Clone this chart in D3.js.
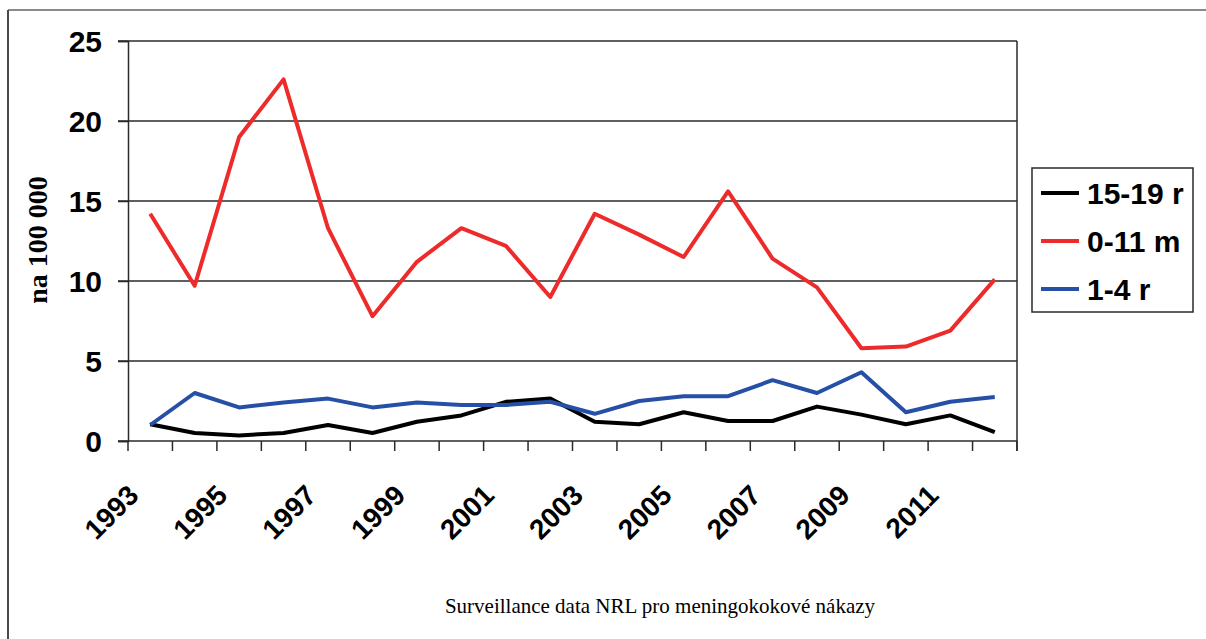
<!DOCTYPE html>
<html>
<head>
<meta charset="utf-8">
<script src="https://cdn.jsdelivr.net/npm/d3@7"></script>
<style>
  body { margin: 0; background: #fff; }
  svg { display: block; }
</style>
</head>
<body>
<script>
// Meningococcal incidence by age group, per 100 000

const years = [1993, 1994, 1995, 1996, 1997, 1998, 1999, 2000, 2001, 2002,
               2003, 2004, 2005, 2006, 2007, 2008, 2009, 2010, 2011, 2012];

const teens = [1.05, 0.5, 0.35, 0.5, 1.0, 0.5, 1.2, 1.6, 2.45, 2.65,
               1.2, 1.05, 1.8, 1.25, 1.25, 2.15, 1.65, 1.05, 1.6, 0.55];

const infants = [14.2, 9.7, 19.0, 22.6, 13.3, 7.8, 11.2, 13.3, 12.2, 9.0,
                 14.2, 12.9, 11.5, 15.6, 11.4, 9.6, 5.8, 5.9, 6.9, 10.1];

const toddlers = [1.0, 3.0, 2.1, 2.4, 2.65, 2.1, 2.4, 2.25, 2.25, 2.45,
                  1.7, 2.5, 2.8, 2.8, 3.8, 3.0, 4.3, 1.8, 2.45, 2.75];

const seriesNames = ["15-19 r", "0-11 m", "1-4 r"];
const yTicks = [0, 5, 10, 15, 20, 25];

const series = [
  { name: seriesNames[0], values: teens, color: "#000000" },
  { name: seriesNames[1], values: infants, color: "#ee2b2b" },
  { name: seriesNames[2], values: toddlers, color: "#2650a6" }
];

const width = 1206;
const height = 639;
const plot = { left: 128, right: 1017, top: 41, bottom: 441 };

const svg = d3.select("body").append("svg")
  .attr("width", width)
  .attr("height", height);

// outer frame (only top and left edges are visible)
svg.append("line")
  .attr("x1", 8).attr("x2", width).attr("y1", 10).attr("y2", 10)
  .attr("stroke", "#8a8a8a").attr("stroke-width", 2);
svg.append("line")
  .attr("x1", 8).attr("x2", 8).attr("y1", 10).attr("y2", height)
  .attr("stroke", "#4a4a4a").attr("stroke-width", 2);

const x = d3.scaleBand()
  .domain(years)
  .range([plot.left, plot.right]);

const y = d3.scaleLinear()
  .domain([0, 25])
  .range([plot.bottom, plot.top]);

// gridlines
svg.append("g")
  .selectAll("line")
  .data(yTicks.filter((d) => d > 0))
  .join("line")
  .attr("x1", plot.left - 10)
  .attr("x2", plot.right)
  .attr("y1", (d) => y(d))
  .attr("y2", (d) => y(d))
  .attr("stroke", "#2a2a2a")
  .attr("stroke-width", 1.5);

// right border of plot
svg.append("line")
  .attr("x1", plot.right).attr("x2", plot.right)
  .attr("y1", plot.top).attr("y2", plot.bottom + 10)
  .attr("stroke", "#2a2a2a").attr("stroke-width", 1.5);

// y axis
const yAxis = svg.append("g")
  .attr("transform", `translate(${plot.left},0)`)
  .call(d3.axisLeft(y).tickValues(yTicks).tickSize(10).tickPadding(16));
yAxis.select(".domain").attr("stroke", "#2a2a2a").attr("stroke-width", 1.5);
yAxis.selectAll(".tick line").attr("stroke", "#2a2a2a").attr("stroke-width", 1.5);
yAxis.selectAll(".tick text")
  .attr("dy", "0.36em")
  .style("font-family", "'Liberation Sans', Arial, sans-serif")
  .style("font-weight", "bold")
  .style("font-size", "30px")
  .attr("fill", "#000");

// x axis: ticks at band boundaries
const xAxisG = svg.append("g");
xAxisG.append("line")
  .attr("x1", plot.left - 10).attr("x2", plot.right)
  .attr("y1", plot.bottom).attr("y2", plot.bottom)
  .attr("stroke", "#2a2a2a").attr("stroke-width", 1.5);
xAxisG.selectAll("line.tick")
  .data(years.concat(["end"]))
  .join("line")
  .attr("class", "tick")
  .attr("x1", (d) => (d === "end" ? plot.right : x(d)))
  .attr("x2", (d) => (d === "end" ? plot.right : x(d)))
  .attr("y1", plot.bottom)
  .attr("y2", plot.bottom + 10)
  .attr("stroke", "#2a2a2a")
  .attr("stroke-width", 1.5);

xAxisG.selectAll("text")
  .data(years.filter((d, i) => i % 2 === 0))
  .join("text")
  .attr("transform", (d) =>
    `translate(${x(d) + x.bandwidth() / 2 - 10},497) rotate(-45)`)
  .attr("text-anchor", "end")
  .style("font-family", "'Liberation Sans', Arial, sans-serif")
  .style("font-weight", "bold")
  .style("font-size", "28px")
  .text((d) => d);

// y axis title
svg.append("text")
  .attr("transform", "translate(47,240) rotate(-90)")
  .attr("text-anchor", "middle")
  .style("font-family", "'Liberation Serif', 'Times New Roman', serif")
  .style("font-weight", "bold")
  .style("font-size", "28px")
  .text("na 100 000");

// series lines
const line = d3.line()
  .x((d, i) => x(years[i]) + x.bandwidth() / 2)
  .y((d) => y(d));

svg.append("g")
  .selectAll("path")
  .data(series)
  .join("path")
  .attr("d", (s) => line(s.values))
  .attr("fill", "none")
  .attr("stroke", (s) => s.color)
  .attr("stroke-width", 4)
  .attr("stroke-linejoin", "round");

// legend
const legend = svg.append("g");
legend.append("rect")
  .attr("x", 1032).attr("y", 168)
  .attr("width", 161).attr("height", 144)
  .attr("fill", "#fff")
  .attr("stroke", "#2a2a2a")
  .attr("stroke-width", 1.5);

const legendRows = legend.selectAll("g.row")
  .data(series)
  .join("g")
  .attr("class", "row")
  .attr("transform", (d, i) => `translate(1041,${193 + i * 48})`);

legendRows.append("line")
  .attr("x1", 0).attr("x2", 38)
  .attr("stroke", (d) => d.color)
  .attr("stroke-width", 4);

legendRows.append("text")
  .attr("x", 46)
  .attr("dy", "0.36em")
  .style("font-family", "'Liberation Sans', Arial, sans-serif")
  .style("font-weight", "bold")
  .style("font-size", "30px")
  .text((d) => d.name);

// source note
svg.append("text")
  .attr("x", 660)
  .attr("y", 613)
  .attr("text-anchor", "middle")
  .style("font-family", "'Liberation Serif', 'Times New Roman', serif")
  .style("font-size", "21px")
  .text("Surveillance data NRL pro meningokokové nákazy");
</script>
</body>
</html>
